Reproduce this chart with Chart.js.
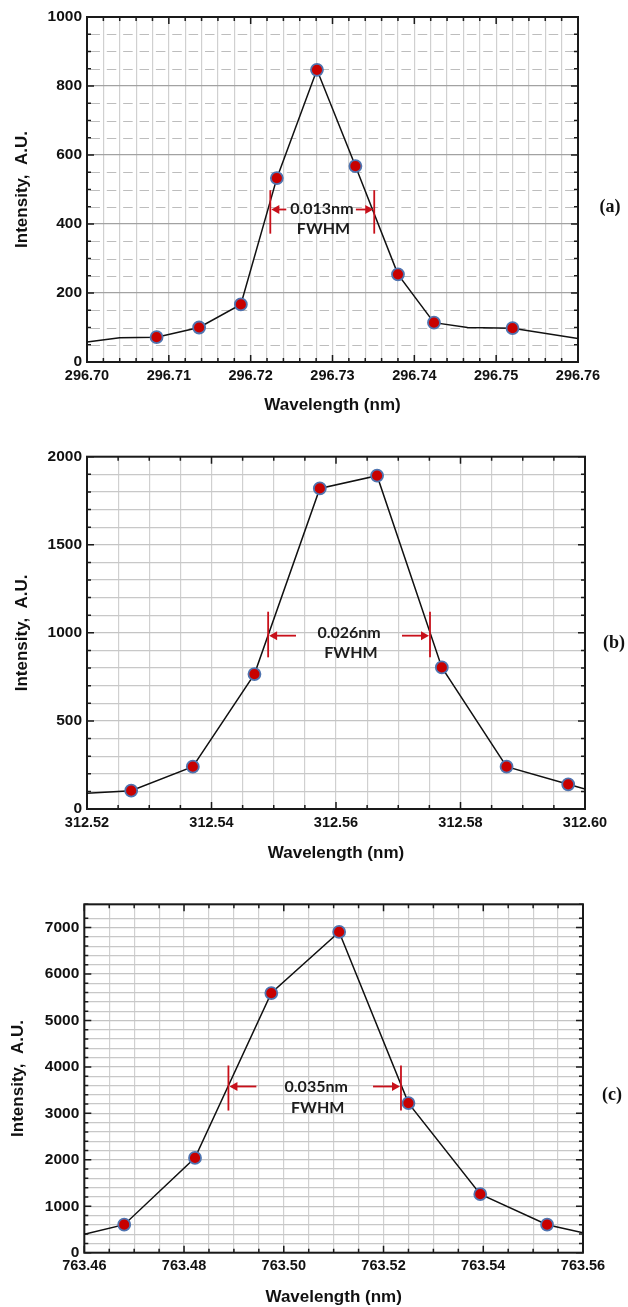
<!DOCTYPE html>
<html>
<head>
<meta charset="utf-8">
<script src="https://cdn.jsdelivr.net/npm/chart.js@4.4.0/dist/chart.umd.min.js"></script>
<style>
  body { margin: 0; background: #fff; }
  #wrap { position: relative; width: 628px; height: 1307px; }
  canvas { position: absolute; left: 0; }
  .tag { position: absolute; font: bold 18px "Liberation Serif", "Times New Roman", serif; color: #111; transform: translate(-50%, -50%); }
</style>
</head>
<body>
<div id="wrap">
  <canvas id="ca" width="628" height="440" style="top:0"></canvas>
  <canvas id="cb" width="628" height="430" style="top:440px"></canvas>
  <canvas id="cc" width="628" height="437" style="top:870px"></canvas>
  <div class="tag" style="left:610px;top:206px">(a)</div>
  <div class="tag" style="left:614px;top:642px">(b)</div>
  <div class="tag" style="left:612px;top:1094px">(c)</div>
</div>
<script>
// (a) measured points (with markers) and unmarked curve points
const aX = [296.7085, 296.7137, 296.7188, 296.7232, 296.7281, 296.7328, 296.7380, 296.7424, 296.7520];
const aY = [72, 100, 167, 533, 847, 568, 254, 114, 98];
const aTailX = [296.700, 296.704, 296.7465, 296.760];
const aTailY = [58, 70, 100, 68];
const aXTicks = [296.70, 296.76, 0.01, 0.002];   // min, max, major, minor
const aYTicks = [0, 1000, 200, 50];

// (b)
const bX = [312.5271, 312.5370, 312.5469, 312.5574, 312.5666, 312.5770, 312.5874, 312.5973];
const bY = [104, 240, 766, 1820, 1892, 804, 240, 140];
const bTailX = [312.52, 312.60];
const bTailY = [89, 113];
const bXTicks = [312.52, 312.60, 0.02, 0.005];
const bYTicks = [0, 2000, 500, 100];

// (c)
const cX = [763.468, 763.4822, 763.4975, 763.5111, 763.525, 763.5394, 763.5528];
const cY = [603, 2041, 5590, 6905, 3220, 1259, 603];
const cTailX = [763.46, 763.56];
const cTailY = [397, 431];
const cXTicks = [763.46, 763.56, 0.02, 0.005];
const cYTicks = [0, 7500, 1000, 200];

// FWHM markers: bar x pair, bar y range, arrow y, arrow tails, text
const aFwhm = { bars: [296.7224, 296.7351], barY: [372, 498], arrowY: 442, tails: [296.72435, 296.73286], text: '0.013nm', textAt: [296.7287, 444], subAt: [296.7289, 387] };
const bFwhm = { bars: [312.5491, 312.5751], barY: [861, 1120], arrowY: 984, tails: [312.55357, 312.5706], text: '0.026nm', textAt: [312.5621, 1001], subAt: [312.5624, 887] };
const cFwhm = { bars: [763.4889, 763.5235], barY: [3060, 4030], arrowY: 3578, tails: [763.4945, 763.5179], text: '0.035nm', textAt: [763.5065, 3561], subAt: [763.5068, 3122] };

const SANS = '"Liberation Sans", Arial, sans-serif';
const isMajor = (v, step) => Math.abs(v / step - Math.round(v / step)) < 1e-6;

function pts(xs, ys) { return xs.map((x, i) => ({ x: x, y: ys[i] })); }

const framePlugin = {
  id: 'frame',
  beforeDatasetsDraw(chart, args, o) {
    const { ctx, chartArea: ca, scales: { x, y } } = chart;
    ctx.save();
    if (o.dashMinor) {
      const cell = x.getPixelForValue(o.xt[0] + o.xt[3]) - x.getPixelForValue(o.xt[0]);
      const g = cell * 0.42;
      ctx.strokeStyle = '#bdbdbd';
      ctx.lineWidth = 1.2;
      ctx.setLineDash([cell - g, g]);
      ctx.lineDashOffset = -g / 2;
      y.ticks.forEach(t => {
        if (isMajor(t.value, o.yt[2])) return;
        const py = Math.round(y.getPixelForValue(t.value)) + 0.5;
        ctx.beginPath(); ctx.moveTo(ca.left, py); ctx.lineTo(ca.right, py); ctx.stroke();
      });
      ctx.setLineDash([]);
    }
    ctx.strokeStyle = '#1a1a1a';
    ctx.lineWidth = 1.5;
    x.ticks.forEach(t => {
      const px = x.getPixelForValue(t.value);
      const len = isMajor(t.value - o.xt[0], o.xt[2]) ? 7 : 4;
      ctx.beginPath();
      ctx.moveTo(px, ca.top); ctx.lineTo(px, ca.top + len);
      ctx.moveTo(px, ca.bottom); ctx.lineTo(px, ca.bottom - len);
      ctx.stroke();
    });
    y.ticks.forEach(t => {
      const py = y.getPixelForValue(t.value);
      const len = isMajor(t.value, o.yt[2]) ? 7 : 4;
      ctx.beginPath();
      ctx.moveTo(ca.left, py); ctx.lineTo(ca.left + len, py);
      ctx.moveTo(ca.right, py); ctx.lineTo(ca.right - len, py);
      ctx.stroke();
    });
    ctx.lineWidth = 2;
    ctx.strokeRect(ca.left, ca.top, ca.right - ca.left, ca.bottom - ca.top);
    ctx.restore();
  }
};

const fwhmPlugin = {
  id: 'fwhm',
  afterDatasetsDraw(chart, args, f) {
    const { ctx, scales: { x, y } } = chart;
    const red = '#c8101a';
    ctx.save();
    ctx.strokeStyle = red;
    ctx.fillStyle = red;
    ctx.lineWidth = 1.8;
    const y0 = y.getPixelForValue(f.barY[0]), y1 = y.getPixelForValue(f.barY[1]);
    const ay = y.getPixelForValue(f.arrowY);
    f.bars.forEach((bx, i) => {
      const px = x.getPixelForValue(bx);
      ctx.beginPath(); ctx.moveTo(px, y0); ctx.lineTo(px, y1); ctx.stroke();
      const tx = x.getPixelForValue(f.tails[i]);
      const dir = i === 0 ? -1 : 1;
      ctx.beginPath(); ctx.moveTo(tx, ay); ctx.lineTo(px - dir * 7, ay); ctx.stroke();
      ctx.beginPath();
      ctx.moveTo(px - dir * 1, ay);
      ctx.lineTo(px - dir * 9, ay - 4.5);
      ctx.lineTo(px - dir * 9, ay + 4.5);
      ctx.closePath(); ctx.fill();
    });
    ctx.fillStyle = '#1c1c1c';
    ctx.font = 'bold 16px Lato, "Open Sans", sans-serif';
    ctx.textAlign = 'center';
    ctx.textBaseline = 'middle';
    ctx.fillText(f.text, x.getPixelForValue(f.textAt[0]), y.getPixelForValue(f.textAt[1]));
    ctx.fillText('FWHM', x.getPixelForValue(f.subAt[0]), y.getPixelForValue(f.subAt[1]));
    ctx.restore();
  }
};

function makeChart(id, d) {
  const line = pts(d.x.concat(d.tx), d.y.concat(d.ty)).sort((p, q) => p.x - q.x);
  return new Chart(document.getElementById(id), {
    type: 'line',
    data: {
      datasets: [
        { data: line, borderColor: '#111', borderWidth: 1.5, pointRadius: 0, tension: 0, order: 2 },
        { data: pts(d.x, d.y), showLine: false, pointRadius: 6, pointBackgroundColor: '#c80000',
          pointBorderColor: '#4f74b0', pointBorderWidth: 1.8, order: 1 }
      ]
    },
    options: {
      responsive: false,
      animation: false,
      events: [],
      layout: { padding: { left: 0, right: d.padR, top: d.padT, bottom: 0 } },
      plugins: {
        legend: { display: false },
        tooltip: { enabled: false },
        frame: { xt: d.xt, yt: d.yt, dashMinor: d.dash },
        fwhm: d.fwhm
      },
      scales: {
        x: {
          type: 'linear', min: d.xt[0], max: d.xt[1],
          afterFit: s => { s.height = d.xH; },
          ticks: {
            stepSize: d.xt[3], autoSkip: false, maxRotation: 0, padding: 5, color: '#111',
            font: { family: SANS, size: 14.5, weight: 'bold' },
            callback: v => isMajor(v - d.xt[0], d.xt[2]) ? v.toFixed(2) : ''
          },
          grid: { color: '#d0d0d0', lineWidth: 1.2, drawTicks: false },
          border: { display: false },
          title: {
            display: true, text: 'Wavelength (nm)', color: '#111',
            font: { family: SANS, size: 17, weight: 'bold', lineHeight: 1.1 },
            padding: { top: 0, bottom: d.xTitlePad }
          }
        },
        y: {
          min: d.yt[0], max: d.yt[1],
          afterFit: s => { s.width = d.yW; },
          ticks: {
            stepSize: d.yt[3], autoSkip: false, padding: 5, color: '#111',
            font: { family: SANS, size: 15.5, weight: 'bold' },
            callback: v => isMajor(v, d.yt[2]) ? String(v) : ''
          },
          grid: {
            drawTicks: false, lineWidth: 1.2,
            color: c => isMajor(c.tick.value, d.yt[2]) ? (d.dash ? '#a2a2a2' : '#c4c4c4') : (d.dash ? 'rgba(0,0,0,0)' : '#c8c8c8')
          },
          border: { display: false },
          title: {
            display: true, text: 'Intensity,  A.U.', color: '#111',
            font: { family: SANS, size: 17, weight: 'bold', lineHeight: 1.1 },
            padding: { top: d.yTitlePad, bottom: 0 }
          }
        }
      }
    },
    plugins: [framePlugin, fwhmPlugin]
  });
}

makeChart('ca', { x: aX, y: aY, tx: aTailX, ty: aTailY, xt: aXTicks, yt: aYTicks, fwhm: aFwhm, dash: true,
  padR: 50, padT: 17, yW: 87, xH: 78, xTitlePad: 25.6, yTitlePad: 12.6 });
makeChart('cb', { x: bX, y: bY, tx: bTailX, ty: bTailY, xt: bXTicks, yt: bYTicks, fwhm: bFwhm, dash: false,
  padR: 43, padT: 16.7, yW: 87, xH: 61, xTitlePad: 7.6, yTitlePad: 12.6 });
makeChart('cc', { x: cX, y: cY, tx: cTailX, ty: cTailY, xt: cXTicks, yt: cYTicks, fwhm: cFwhm, dash: false,
  padR: 45, padT: 34.3, yW: 84.3, xH: 54.3, xTitlePad: 0, yTitlePad: 8.6 });
</script>
</body>
</html>
